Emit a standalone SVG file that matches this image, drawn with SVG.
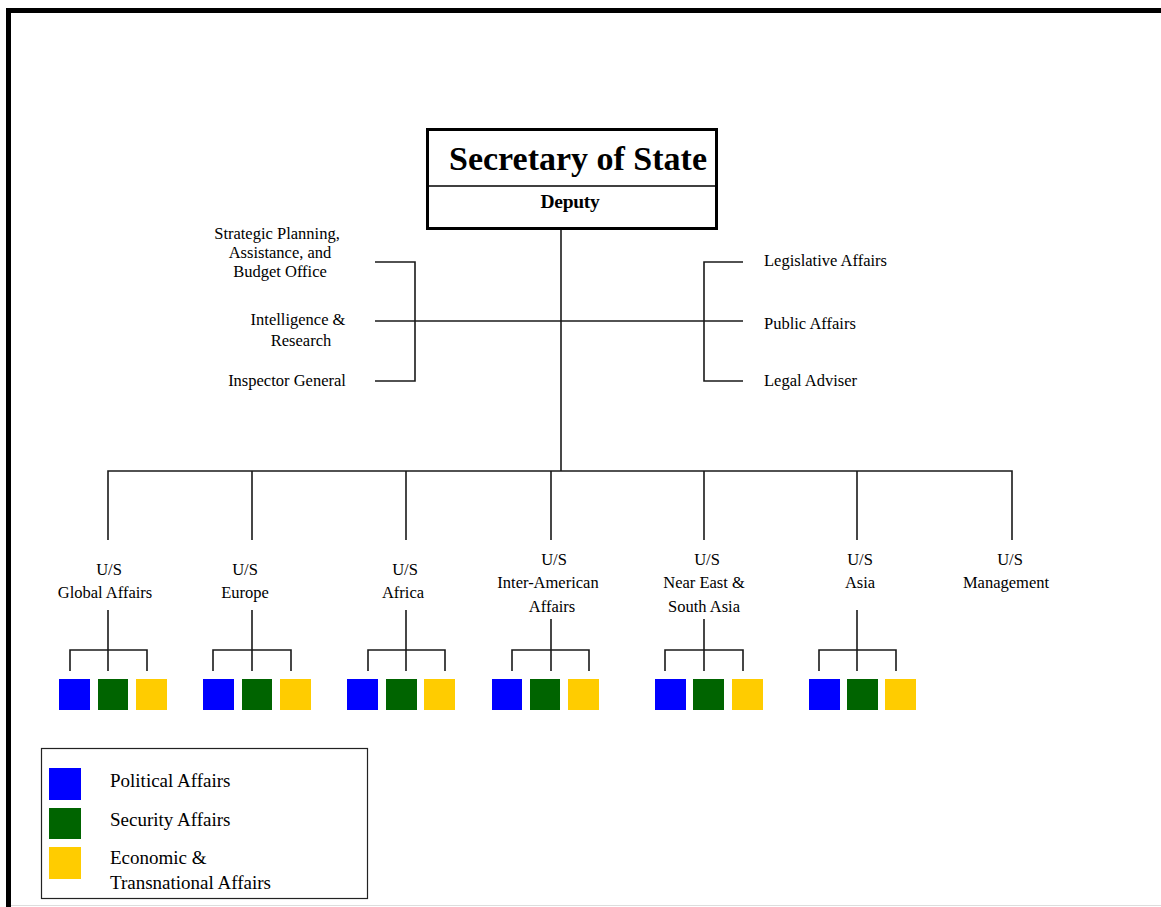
<svg xmlns="http://www.w3.org/2000/svg" width="1161" height="907" viewBox="0 0 1161 907">
<style>
text{font-family:"Liberation Serif","Times New Roman",serif;fill:#000}
.t{font-size:16.5px}
.c{text-anchor:middle}
.lg{font-size:19px}
.ln{stroke:#1a1a1a;stroke-width:1.6;fill:none}
.pol{fill:#0000FF}
.sec{fill:#006400}
.eco{fill:#FFCC00}
</style>
<rect width="1161" height="907" fill="#fff"/>
<g id="frame">
<line x1="6" y1="10.5" x2="1161" y2="10.5" stroke="#000" stroke-width="5"/>
<line x1="8.5" y1="8" x2="8.5" y2="907" stroke="#000" stroke-width="5"/>
<line x1="11" y1="905.5" x2="1161" y2="905.5" stroke="#ddd" stroke-width="1"/>
</g>
<g id="connectors">
<path class="ln" d="M561 230V471"/>
<path class="ln" d="M375 321H743"/>
<path class="ln" d="M375 262H415V381H375"/>
<path class="ln" d="M743 262H704V381H743"/>
<path class="ln" d="M108 540V471H1012V540"/>
<path class="ln" d="M252 471V540M406 471V540M551 471V540M704 471V540M857 471V540"/>
<path class="ln" d="M108 610V671M70 671V650H147V671"/>
<path class="ln" d="M252 610V671M213 671V650H291V671"/>
<path class="ln" d="M406 610V671M368 671V650H445V671"/>
<path class="ln" d="M551 619V671M512 671V650H589V671"/>
<path class="ln" d="M704 619V671M665 671V650H743V671"/>
<path class="ln" d="M857 610V671M819 671V650H896V671"/>
</g>
<g id="secretary">
<rect x="427.5" y="129.5" width="289" height="99" fill="#fff" stroke="#000" stroke-width="3"/>
<line x1="427" y1="186" x2="717" y2="186" stroke="#000" stroke-width="1.6"/>
<text x="578" y="170" class="c" font-size="34" font-weight="bold">Secretary of State</text>
<text x="570" y="208" class="c" font-size="19.5" font-weight="bold" letter-spacing="-0.3">Deputy</text>
</g>
<g id="strategic-planning"><text class="t c"><tspan x="277" y="239">Strategic Planning,</tspan><tspan x="280" y="258">Assistance, and</tspan><tspan x="280" y="277">Budget Office</tspan></text></g>
<g id="intelligence"><text class="t c"><tspan x="298" y="325">Intelligence &amp;</tspan><tspan x="301" y="346">Research</tspan></text></g>
<g id="inspector-general"><text class="t c" x="287" y="386">Inspector General</text></g>
<g id="legislative-affairs"><text class="t" x="764" y="266">Legislative Affairs</text></g>
<g id="public-affairs"><text class="t" x="764" y="329">Public Affairs</text></g>
<g id="legal-adviser"><text class="t" x="764" y="386">Legal Adviser</text></g>
<g id="us-global"><text class="t c"><tspan x="109" y="575">U/S</tspan><tspan x="105" y="598">Global Affairs</tspan></text>
<rect class="pol" x="59" y="679" width="31" height="31"/><rect class="sec" x="98" y="679" width="30" height="31"/><rect class="eco" x="136" y="679" width="31" height="31"/></g>
<g id="us-europe"><text class="t c"><tspan x="245" y="575">U/S</tspan><tspan x="245" y="598">Europe</tspan></text>
<rect class="pol" x="203" y="679" width="31" height="31"/><rect class="sec" x="242" y="679" width="30" height="31"/><rect class="eco" x="280" y="679" width="31" height="31"/></g>
<g id="us-africa"><text class="t c"><tspan x="405" y="575">U/S</tspan><tspan x="403" y="598">Africa</tspan></text>
<rect class="pol" x="347" y="679" width="31" height="31"/><rect class="sec" x="386" y="679" width="31" height="31"/><rect class="eco" x="424" y="679" width="31" height="31"/></g>
<g id="us-inter-american"><text class="t c"><tspan x="554" y="565">U/S</tspan><tspan x="548" y="588">Inter-American</tspan><tspan x="552" y="612">Affairs</tspan></text>
<rect class="pol" x="492" y="679" width="30" height="31"/><rect class="sec" x="530" y="679" width="30" height="31"/><rect class="eco" x="568" y="679" width="31" height="31"/></g>
<g id="us-near-east"><text class="t c"><tspan x="707" y="565">U/S</tspan><tspan x="704" y="588">Near East &amp;</tspan><tspan x="704" y="612">South Asia</tspan></text>
<rect class="pol" x="655" y="679" width="31" height="31"/><rect class="sec" x="693" y="679" width="31" height="31"/><rect class="eco" x="732" y="679" width="31" height="31"/></g>
<g id="us-asia"><text class="t c"><tspan x="860" y="565">U/S</tspan><tspan x="860" y="588">Asia</tspan></text>
<rect class="pol" x="809" y="679" width="31" height="31"/><rect class="sec" x="847" y="679" width="31" height="31"/><rect class="eco" x="885" y="679" width="31" height="31"/></g>
<g id="us-management"><text class="t c"><tspan x="1010" y="565">U/S</tspan><tspan x="1006" y="588">Management</tspan></text></g>
<g id="legend">
<rect x="41.5" y="748.5" width="326" height="150" fill="#fff" stroke="#222" stroke-width="1.2"/>
<rect class="pol" x="49" y="768" width="32" height="32"/>
<rect class="sec" x="49" y="808" width="32" height="31"/>
<rect class="eco" x="49" y="847" width="32" height="32"/>
<text class="lg" x="110" y="787">Political Affairs</text>
<text class="lg" x="110" y="826">Security Affairs</text>
<text class="lg" x="110" y="864">Economic &amp;</text>
<text class="lg" x="110" y="889">Transnational Affairs</text>
</g>
</svg>
